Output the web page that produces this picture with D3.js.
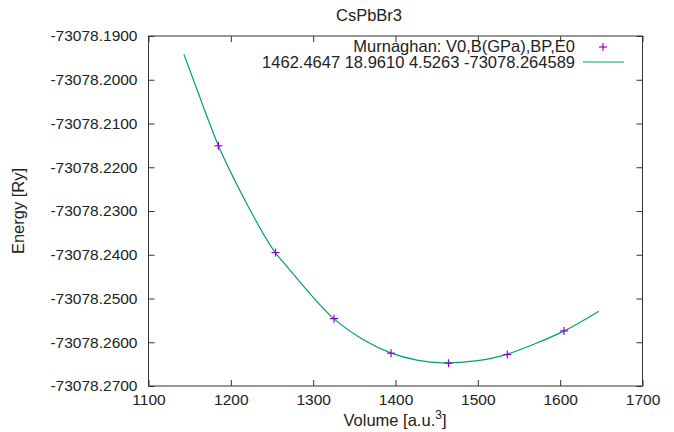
<!DOCTYPE html>
<html><head><meta charset="utf-8">
<script src="https://cdn.jsdelivr.net/npm/d3@7"></script>
<style>
html,body{margin:0;padding:0;background:#fff;}
text{font-family:"Liberation Sans",Arial,sans-serif;fill:#222;}
</style></head>
<body>
<svg id="c" width="674" height="432"></svg>
<script>
// Data points (Volume, Energy)
const volumes = [1184.9, 1254.3, 1325.3, 1394.6, 1464.4, 1535.8, 1604.6];
const energies = [-73078.2151, -73078.2395, -73078.2546, -73078.2625, -73078.2648, -73078.2628, -73078.2574];
// Fitted Murnaghan curve
const fitVolumes = [1143, 1159, 1185, 1217, 1254, 1270, 1325, 1360, 1395, 1426, 1458, 1500, 1536, 1570, 1605, 1647];
const fitEnergies = [-73078.1942, -73078.2023, -73078.2151, -73078.2275, -73078.2395, -73078.2431, -73078.2546, -73078.2593, -73078.2625, -73078.2641, -73078.2647, -73078.2642, -73078.2627, -73078.2603, -73078.2574, -73078.2529];
const xTicks = [1100, 1200, 1300, 1400, 1500, 1600, 1700];
const yTicks = [-73078.19, -73078.20, -73078.21, -73078.22, -73078.23, -73078.24, -73078.25, -73078.26, -73078.27];
const title = "CsPbBr3";
const legendPoints = "Murnaghan: V0,B(GPa),BP,E0";
const legendLine = "1462.4647 18.9610 4.5263 -73078.264589";

const svg = d3.select("#c");
const L = 148.5, R = 642.5, T = 36, B = 386;
const x = d3.scaleLinear().domain([1100, 1700]).range([L, R]);
const y = d3.scaleLinear().domain([-73078.27, -73078.19]).range([B, T]);
const fsTick = 15.5, fs = 16.5;

// axes with inward ticks
const ax = (g, axis) => { g.call(axis); g.select(".domain").remove(); g.selectAll(".tick line").attr("stroke", "#333"); g.selectAll("text").attr("fill", "#222").style("font-family", '"Liberation Sans",Arial,sans-serif').style("font-size", fsTick + "px"); };
svg.append("g").attr("transform", `translate(0,${B})`).call(g => ax(g, d3.axisBottom(x).tickValues(xTicks).tickSizeInner(-6).tickSizeOuter(0).tickPadding(8).tickFormat(d3.format("d"))));
svg.append("g").attr("transform", `translate(0,${T})`).call(g => ax(g, d3.axisTop(x).tickValues(xTicks).tickSizeInner(-6).tickSizeOuter(0).tickFormat("")));
svg.append("g").attr("transform", `translate(${L},0)`).call(g => ax(g, d3.axisLeft(y).tickValues(yTicks).tickSizeInner(-6).tickSizeOuter(0).tickPadding(11).tickFormat(d => d.toFixed(4))));
svg.append("g").attr("transform", `translate(${R},0)`).call(g => ax(g, d3.axisRight(y).tickValues(yTicks).tickSizeInner(-6).tickSizeOuter(0).tickFormat("")));
svg.selectAll(".tick line").attr("stroke-width", 1);

// frame
svg.append("rect").attr("x", L).attr("y", T).attr("width", R - L).attr("height", B - T).attr("fill", "none").attr("stroke", "#333").attr("stroke-width", 1);

// fit line
const line = d3.line().x((d, i) => x(fitVolumes[i])).y((d, i) => y(fitEnergies[i])).curve(d3.curveMonotoneX);
svg.append("path").datum(fitVolumes).attr("d", line).attr("fill", "none").attr("stroke", "#009e73").attr("stroke-width", 1.2);

// points as plus signs
const s = 4;
const pts = svg.append("g").attr("stroke", "#9400d3").attr("stroke-width", 1.2);
volumes.forEach((v, i) => {
  const px = x(v), py = y(energies[i]);
  pts.append("line").attr("x1", px - s).attr("x2", px + s).attr("y1", py).attr("y2", py);
  pts.append("line").attr("x1", px).attr("x2", px).attr("y1", py - s).attr("y2", py + s);
});

// title and labels
svg.append("text").attr("x", 369).attr("y", 21).attr("text-anchor", "middle").style("font-size", fs + "px").text(title);
svg.append("text").attr("transform", "translate(24,211) rotate(-90)").attr("text-anchor", "middle").style("font-size", fs + "px").text("Energy [Ry]");
const xl = svg.append("text").attr("x", 395).attr("y", 426).attr("text-anchor", "middle").style("font-size", fs + "px");
xl.append("tspan").text("Volume [a.u.");
xl.append("tspan").attr("dy", -7).style("font-size", "12px").text("3");
xl.append("tspan").attr("dy", 7).text("]");

// legend
svg.append("text").attr("x", 575).attr("y", 52).attr("text-anchor", "end").style("font-size", fs + "px").text(legendPoints);
svg.append("text").attr("x", 575).attr("y", 67.5).attr("text-anchor", "end").style("font-size", fs + "px").text(legendLine);
const lg = svg.append("g").attr("stroke", "#9400d3").attr("stroke-width", 1.2);
lg.append("line").attr("x1", 603 - s).attr("x2", 603 + s).attr("y1", 47).attr("y2", 47);
lg.append("line").attr("x1", 603).attr("x2", 603).attr("y1", 47 - s).attr("y2", 47 + s);
svg.append("line").attr("x1", 583).attr("x2", 624).attr("y1", 62).attr("y2", 62).attr("stroke", "#009e73").attr("stroke-width", 1.2);
</script>
</body></html>
